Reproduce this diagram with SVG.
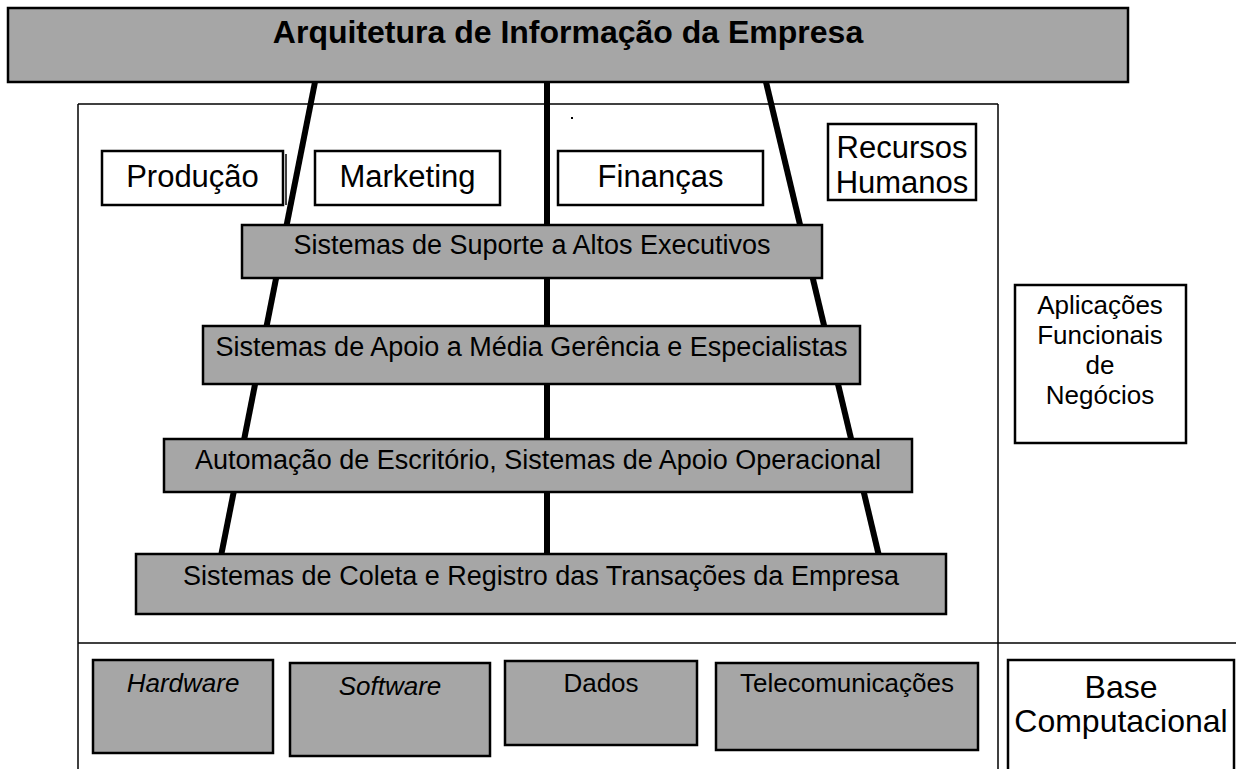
<svg xmlns="http://www.w3.org/2000/svg" width="1236" height="769" viewBox="0 0 1236 769">
<style>
  text { font-family: "Liberation Sans", Arial, sans-serif; fill: #000; text-anchor: middle; }
  .grey { fill: #a6a6a6; stroke: #000; stroke-width: 2.5; }
  .white { fill: #fff; stroke: #000; stroke-width: 2.5; }
  .frame { stroke: #000; stroke-width: 1.5; fill: none; }
  .spoke { stroke: #000; stroke-width: 6; fill: none; }
  .big { font-size: 31px; }
  .mid { font-size: 27px; }
  .small { font-size: 26px; }
</style>
<rect x="0" y="0" width="1236" height="769" fill="#fff"/>
<g id="frame">
  <line class="frame" x1="78" y1="104" x2="998" y2="104"/>
  <line class="frame" x1="78" y1="104" x2="78" y2="769"/>
  <line class="frame" x1="998" y1="104" x2="998" y2="769"/>
  <line class="frame" x1="78" y1="643" x2="1236" y2="643"/>
  <rect x="571" y="117" width="2" height="2" fill="#000"/>
</g>
<g id="connectors">
  <line class="spoke" x1="315" y1="82" x2="221" y2="556"/>
  <line class="spoke" x1="547" y1="82" x2="547" y2="556"/>
  <line class="spoke" x1="766" y1="82" x2="879" y2="556"/>
</g>
<g id="title">
  <rect class="grey" x="8" y="8" width="1120" height="74"/>
  <text x="568" y="43" font-size="32" font-weight="bold">Arquitetura de Informação da Empresa</text>
</g>
<g id="producao">
  <rect class="white" x="102" y="151" width="181" height="54"/>
  <line class="frame" x1="286" y1="154" x2="286" y2="205"/>
  <text class="big" x="192.5" y="187">Produção</text>
</g>
<g id="marketing">
  <rect class="white" x="315" y="151" width="185" height="54"/>
  <text class="big" x="407.5" y="187">Marketing</text>
</g>
<g id="financas">
  <rect class="white" x="558" y="151" width="205" height="54"/>
  <text class="big" x="660.5" y="187">Finanças</text>
</g>
<g id="rh">
  <rect class="white" x="828" y="124" width="148" height="76"/>
  <text class="big" x="902" y="158">Recursos</text>
  <text class="big" x="902" y="193">Humanos</text>
</g>
<g id="suporte">
  <rect class="grey" x="242" y="225" width="580" height="53"/>
  <text class="mid" x="532" y="254">Sistemas de Suporte a Altos Executivos</text>
</g>
<g id="apoio">
  <rect class="grey" x="203" y="326" width="657" height="58"/>
  <text class="mid" x="531.5" y="356">Sistemas de Apoio a Média Gerência e Especialistas</text>
</g>
<g id="automacao">
  <rect class="grey" x="164" y="439" width="748" height="53"/>
  <text class="mid" x="538" y="469">Automação de Escritório, Sistemas de Apoio Operacional</text>
</g>
<g id="coleta">
  <rect class="grey" x="136" y="554" width="810" height="60"/>
  <text class="mid" x="541" y="585">Sistemas de Coleta e Registro das Transações da Empresa</text>
</g>
<g id="aplicacoes">
  <rect class="white" x="1015" y="285" width="171" height="158"/>
  <text class="small" x="1100" y="314">Aplicações</text>
  <text class="small" x="1100" y="344">Funcionais</text>
  <text class="small" x="1100" y="374">de</text>
  <text class="small" x="1100" y="404">Negócios</text>
</g>
<g id="hardware">
  <rect class="grey" x="93" y="660" width="180" height="93"/>
  <text class="small" x="183" y="692" font-style="italic">Hardware</text>
</g>
<g id="software">
  <rect class="grey" x="290" y="663" width="200" height="93"/>
  <text class="small" x="390" y="695" font-style="italic">Software</text>
</g>
<g id="dados">
  <rect class="grey" x="505" y="661" width="192" height="84"/>
  <text class="small" x="601" y="692">Dados</text>
</g>
<g id="telecom">
  <rect class="grey" x="716" y="663" width="262" height="87"/>
  <text class="small" x="847" y="692">Telecomunicações</text>
</g>
<g id="base">
  <rect class="white" x="1008" y="660" width="226" height="120"/>
  <text x="1121" y="698" font-size="32">Base</text>
  <text x="1121" y="732" font-size="32">Computacional</text>
</g>
</svg>
